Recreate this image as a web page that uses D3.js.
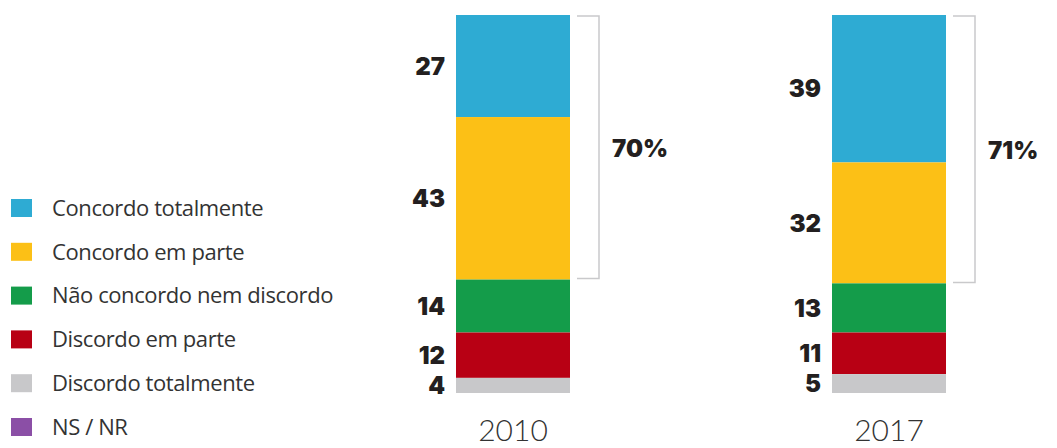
<!DOCTYPE html>
<html>
<head>
<meta charset="utf-8">
<script src="https://cdn.jsdelivr.net/npm/d3@7"></script>
<style>
  html, body { margin: 0; padding: 0; background: #fff; }
  svg { display: block; }
</style>
</head>
<body>
<svg id="chart" width="1057" height="448"></svg>
<script>
// Survey answers, stacked from top to bottom
const categories = ["Concordo totalmente", "Concordo em parte", "Não concordo nem discordo", "Discordo em parte", "Discordo totalmente", "NS / NR"];
const years = ["2010", "2017"];
const values2010 = [27, 43, 14, 12, 4, 0];
const values2017 = [39, 32, 13, 11, 5, 0];
const agreeTotals = ["70%", "71%"];
const colors = ["#2eabd3", "#fcc016", "#149c4a", "#b80014", "#c8c8ca", "#8b4fa6"];

const seriesByYear = [values2010, values2017];

const svg = d3.select("#chart");

const x = d3.scaleOrdinal().domain(years).range([456, 832]);
const barWidth = 114;
const y = d3.scaleLinear().domain([0, 100]).range([15, 393]);
const color = d3.scaleOrdinal().domain(categories).range(colors);

const numFont = "Inter, 'DejaVu Sans', sans-serif";

years.forEach((yr, i) => {
  const vals = seriesByYear[i];
  const rows = categories.map((c, k) => ({ cat: c, value: vals[k] }));
  let acc = 0;
  rows.forEach(r => { r.y0 = acc; acc += r.value; r.y1 = acc; });
  const visible = rows.filter(r => r.value > 0);

  const g = svg.append("g");
  g.selectAll("rect")
    .data(visible)
    .join("rect")
    .attr("x", x(yr))
    .attr("width", barWidth)
    .attr("y", d => y(d.y0))
    .attr("height", d => y(d.y1) - y(d.y0))
    .attr("fill", d => color(d.cat));

  g.selectAll("text.val")
    .data(visible)
    .join("text")
    .attr("class", "val")
    .attr("x", x(yr) - 11)
    .attr("y", d => y((d.y0 + d.y1) / 2))
    .attr("dy", "0.36em")
    .attr("text-anchor", "end")
    .attr("font-family", numFont)
    .attr("font-weight", 900)
    .attr("font-size", 24)
    .attr("fill", "#231f20")
    .text(d => d.value);

  // Bracket around the two "agree" answers
  const agreeEnd = rows[1].y1;
  const bx = x(yr) + barWidth + 29;
  const y0 = y(0) + 1, y1 = y(agreeEnd) - 1;
  g.append("path")
    .attr("d", `M${bx - 22},${y0}H${bx}V${y1}H${bx - 22}`)
    .attr("fill", "none")
    .attr("stroke", "#c9c9cb")
    .attr("stroke-width", 1.5);
  g.append("text")
    .attr("x", bx + 13)
    .attr("y", (y0 + y1) / 2 + 1)
    .attr("dy", "0.36em")
    .attr("font-family", numFont)
    .attr("font-weight", 900)
    .attr("font-size", 24)
    .attr("fill", "#231f20")
    .text(agreeTotals[i]);

  g.append("text")
    .attr("x", x(yr) + barWidth / 2)
    .attr("y", 441)
    .attr("text-anchor", "middle")
    .attr("font-family", "Lato, 'Open Sans', sans-serif")
    .attr("font-weight", 300)
    .attr("font-size", 30)
    .attr("fill", "#333")
    .text(yr);
});

// Legend
const legend = svg.append("g")
  .selectAll("g")
  .data(categories)
  .join("g")
  .attr("transform", (d, i) => `translate(11, ${208 + i * 43.8})`);
legend.append("rect")
  .attr("x", 0).attr("y", -9)
  .attr("width", 21).attr("height", 18)
  .attr("fill", d => color(d));
legend.append("text")
  .attr("x", 41)
  .attr("y", 0)
  .attr("dy", "0.35em")
  .attr("font-family", "'Open Sans', sans-serif")
  .attr("font-size", 22)
  .attr("letter-spacing", -0.4)
  .attr("fill", "#333")
  .text(d => d);
</script>
</body>
</html>
